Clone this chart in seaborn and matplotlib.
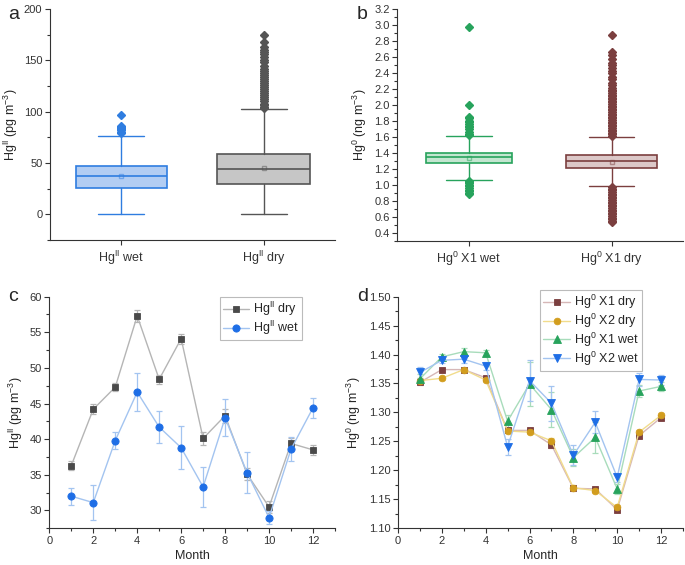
import seaborn as sns
import numpy as np
import matplotlib.pyplot as plt
from matplotlib.ticker import MultipleLocator

# ---- panel a: Hg(II) box stats (pg m-3)
a_labels = ["Hg$^{II}$ wet", "Hg$^{II}$ dry"]
a_q1 = [26, 30]
a_med = [37, 44]
a_q3 = [47.5, 59]
a_lo = [0, 0]
a_hi = [76, 103]
a_mean = [37, 45.5]
a_fliers_wet = [79, 80, 82, 83, 84, 85, 86, 97]
a_fliers_dry = [104, 105, 107, 108, 110, 112, 114, 116, 118, 120, 122, 124, 126,
                128, 130, 132, 134, 136, 138, 140, 142, 145, 148, 150, 153, 156,
                158, 160, 163, 168, 175]

# ---- panel b: Hg(0) box stats (ng m-3)
b_labels = ["Hg$^{0}$ X1 wet", "Hg$^{0}$ X1 dry"]
b_q1 = [1.27, 1.21]
b_med = [1.35, 1.30]
b_q3 = [1.40, 1.37]
b_lo = [1.06, 0.98]
b_hi = [1.61, 1.60]
b_mean = [1.34, 1.29]
b_fliers_wet = [1.62, 1.64, 1.66, 1.70, 1.72, 1.74, 1.76, 1.78, 1.80, 1.83, 1.85,
                2.00, 2.98, 1.05, 1.04, 1.02, 1.00, 0.98, 0.96, 0.94, 0.92, 0.90, 0.88]
b_fliers_dry = [1.61, 1.63, 1.65, 1.67, 1.69, 1.71, 1.73, 1.75, 1.77, 1.79, 1.81,
                1.83, 1.85, 1.87, 1.89, 1.91, 1.93, 1.95, 1.97, 1.99, 2.01, 2.03,
                2.05, 2.07, 2.09, 2.11, 2.13, 2.15, 2.17, 2.19, 2.21, 2.25, 2.28,
                2.32, 2.35, 2.40, 2.43, 2.46, 2.50, 2.53, 2.57, 2.62, 2.66, 2.87,
                0.97, 0.95, 0.93, 0.91, 0.89, 0.87, 0.85, 0.83, 0.81, 0.79, 0.77,
                0.75, 0.73, 0.71, 0.69, 0.67, 0.65, 0.63, 0.61, 0.59, 0.57, 0.55, 0.53]

# ---- panel c: monthly Hg(II)
months = [1, 2, 3, 4, 5, 6, 7, 8, 9, 10, 11, 12]
hg2_dry = [36.3, 44.2, 47.3, 57.3, 48.4, 54.1, 40.1, 43.3, 35.1, 30.5, 39.4, 38.5]
hg2_dry_err = [0.6, 0.7, 0.6, 0.8, 0.6, 0.7, 0.9, 1.0, 0.8, 0.8, 0.8, 0.7]
hg2_wet = [32.0, 31.1, 39.8, 46.6, 41.7, 38.8, 33.3, 43.0, 35.3, 29.0, 38.6, 44.4]
hg2_wet_err = [1.2, 2.5, 1.2, 2.7, 2.2, 3.0, 2.8, 2.6, 2.9, 0.9, 1.7, 1.4]

# ---- panel d: monthly Hg(0)
hg0_x1_dry = [1.352, 1.374, 1.374, 1.360, 1.269, 1.269, 1.244, 1.169, 1.168, 1.132, 1.260, 1.291]
hg0_x1_dry_err = [0.004, 0.003, 0.003, 0.003, 0.003, 0.003, 0.005, 0.004, 0.004, 0.004, 0.004, 0.004]
hg0_x2_dry = [1.355, 1.359, 1.374, 1.356, 1.268, 1.266, 1.251, 1.170, 1.165, 1.136, 1.266, 1.295]
hg0_x2_dry_err = [0.004, 0.003, 0.003, 0.003, 0.003, 0.003, 0.005, 0.004, 0.004, 0.004, 0.004, 0.004]
hg0_x1_wet = [1.358, 1.396, 1.405, 1.403, 1.285, 1.349, 1.305, 1.222, 1.257, 1.168, 1.337, 1.345]
hg0_x1_wet_err = [0.008, 0.005, 0.006, 0.005, 0.010, 0.038, 0.030, 0.015, 0.027, 0.008, 0.010, 0.008]
hg0_x2_wet = [1.369, 1.390, 1.392, 1.380, 1.241, 1.355, 1.316, 1.226, 1.283, 1.188, 1.357, 1.356]
hg0_x2_wet_err = [0.010, 0.005, 0.006, 0.007, 0.014, 0.035, 0.030, 0.017, 0.019, 0.008, 0.011, 0.008]

sns.set_style("ticks")
plt.rcParams['font.family'] = ['Liberation Sans', 'DejaVu Sans']
plt.rcParams['mathtext.fontset'] = 'custom'
plt.rcParams['mathtext.rm'] = 'Liberation Sans'
plt.rcParams['mathtext.it'] = 'Liberation Sans:italic'
plt.rcParams['mathtext.default'] = 'regular'
plt.rcParams['axes.edgecolor'] = '#333333'
plt.rcParams['xtick.color'] = '#333333'
plt.rcParams['ytick.color'] = '#333333'

LAB = 9
TICK = 8

fig = plt.figure(figsize=(6.85, 5.65), dpi=100)
ax_a = fig.add_axes([0.073, 0.575, 0.416, 0.409])
ax_b = fig.add_axes([0.580, 0.574, 0.417, 0.410])
ax_c = fig.add_axes([0.072, 0.065, 0.417, 0.410])
ax_d = fig.add_axes([0.581, 0.065, 0.416, 0.410])


def make_stats(labels, q1, med, q3, lo, hi, mean, fliers):
    return [dict(label=labels[i], q1=q1[i], med=med[i], q3=q3[i], whislo=lo[i],
                 whishi=hi[i], mean=mean[i], fliers=fliers[i]) for i in range(len(labels))]


def common_ticks(ax):
    ax.tick_params(which='both', direction='out', width=0.8, pad=2)
    ax.tick_params(which='major', length=3.5)
    ax.tick_params(which='minor', length=2)


def draw_boxes(ax, stats, edges, faces, widths):
    for i, st in enumerate(stats):
        ec = edges[i]
        ax.bxp([st], positions=[i + 1], widths=widths[i], capwidths=0.32,
               patch_artist=True, showmeans=True, manage_ticks=False,
               boxprops=dict(facecolor=faces[i], edgecolor=ec, linewidth=1.2),
               medianprops=dict(color=ec, linewidth=1.2),
               whiskerprops=dict(color=ec, linewidth=1.0),
               capprops=dict(color=ec, linewidth=1.0),
               flierprops=dict(marker='D', markerfacecolor=ec, markeredgecolor=ec,
                               markersize=4.3, linestyle='none'),
               meanprops=dict(marker='s', markerfacecolor='none', markeredgecolor=ec,
                              markersize=3, alpha=0.5))
    ax.set_xlim(0.5, 2.5)
    ax.set_xticks([1, 2])
    common_ticks(ax)
    ax.tick_params(axis='x', labelsize=LAB, pad=3)
    ax.tick_params(axis='y', labelsize=TICK)


# panel a
st_a = make_stats(a_labels, a_q1, a_med, a_q3, a_lo, a_hi, a_mean, [a_fliers_wet, a_fliers_dry])
draw_boxes(ax_a, st_a, ['#2f7de0', '#555555'], ['#b2cdf3', '#c6c6c6'], [0.64, 0.65])
ax_a.set_xticklabels(a_labels)
ax_a.set_ylim(-25, 200)
ax_a.yaxis.set_major_locator(MultipleLocator(50))
ax_a.yaxis.set_minor_locator(MultipleLocator(25))
ax_a.set_ylabel("Hg$^{II}$ (pg m$^{-3}$)", fontsize=LAB, labelpad=3)

# panel b
st_b = make_stats(b_labels, b_q1, b_med, b_q3, b_lo, b_hi, b_mean, [b_fliers_wet, b_fliers_dry])
draw_boxes(ax_b, st_b, ['#27a35c', '#7b3f3f'], ['#c3e6d0', '#dcc8c8'], [0.60, 0.64])
ax_b.set_xticklabels(b_labels)
ax_b.set_ylim(0.3, 3.2)
ax_b.yaxis.set_major_locator(MultipleLocator(0.2))
ax_b.yaxis.set_minor_locator(MultipleLocator(0.1))
ax_b.yaxis.set_major_formatter(plt.FormatStrFormatter('%.1f'))
ax_b.set_ylabel("Hg$^{0}$ (ng m$^{-3}$)", fontsize=LAB, labelpad=4)


def draw_series(ax, y, err, label, dark, light, marker, ms=4.8):
    ax.errorbar(months, y, yerr=err, fmt='none', ecolor=light, elinewidth=0.9,
                capsize=2.5, capthick=0.9, zorder=1)
    sns.lineplot(x=months, y=y, ax=ax, color=light, linewidth=1.0, marker=marker,
                 markersize=ms, markerfacecolor=dark, markeredgecolor=dark,
                 markeredgewidth=0.6, label=label, zorder=3)


def style_month_axis(ax):
    ax.set_xlim(0, 13)
    ax.xaxis.set_major_locator(MultipleLocator(2))
    ax.xaxis.set_minor_locator(MultipleLocator(1))
    ax.set_xlabel("Month", fontsize=LAB, labelpad=3)
    common_ticks(ax)
    ax.tick_params(labelsize=TICK)


def month_legend(ax, anchor):
    leg = ax.legend(loc='upper right', bbox_to_anchor=anchor, fontsize=LAB,
                    frameon=True, fancybox=False, edgecolor='#aaaaaa',
                    handlelength=2.1, borderpad=0.25, labelspacing=0.05,
                    handletextpad=0.35, borderaxespad=0.2)
    leg.get_frame().set_linewidth(0.8)


# panel c
draw_series(ax_c, hg2_dry, hg2_dry_err, "Hg$^{II}$ dry", '#4a4a4a', '#b5b5b5', 's')
draw_series(ax_c, hg2_wet, hg2_wet_err, "Hg$^{II}$ wet", '#1e6ee6', '#a3c4f0', 'o', 5.2)
style_month_axis(ax_c)
ax_c.set_ylim(27.5, 60)
ax_c.yaxis.set_major_locator(MultipleLocator(5))
ax_c.yaxis.set_minor_locator(MultipleLocator(2.5))
ax_c.set_ylabel("Hg$^{II}$ (pg m$^{-3}$)", fontsize=LAB, labelpad=3)
month_legend(ax_c, (0.895, 1.01))

# panel d
draw_series(ax_d, hg0_x1_dry, hg0_x1_dry_err, "Hg$^{0}$ X1 dry", '#7b3f3f', '#d6b7b7', 's')
draw_series(ax_d, hg0_x2_dry, hg0_x2_dry_err, "Hg$^{0}$ X2 dry", '#d29d1e', '#f1dc8c', 'o')
draw_series(ax_d, hg0_x1_wet, hg0_x1_wet_err, "Hg$^{0}$ X1 wet", '#27a35c', '#a8dcbb', '^', 5.2)
draw_series(ax_d, hg0_x2_wet, hg0_x2_wet_err, "Hg$^{0}$ X2 wet", '#1e6ee6', '#a3c4f0', 'v', 5.2)
style_month_axis(ax_d)
ax_d.set_ylim(1.10, 1.50)
ax_d.yaxis.set_major_locator(MultipleLocator(0.05))
ax_d.yaxis.set_minor_locator(MultipleLocator(0.025))
ax_d.yaxis.set_major_formatter(plt.FormatStrFormatter('%.2f'))
ax_d.set_ylabel("Hg$^{0}$ (ng m$^{-3}$)", fontsize=LAB, labelpad=4)
month_legend(ax_d, (0.866, 1.04))

for ax in (ax_a, ax_b, ax_c, ax_d):
    sns.despine(ax=ax)

fig.text(0.012, 0.99, "a", fontsize=14, va='top')
fig.text(0.521, 0.99, "b", fontsize=14, va='top')
fig.text(0.012, 0.49, "c", fontsize=14, va='top')
fig.text(0.521, 0.49, "d", fontsize=14, va='top')

fig.savefig("out.png", dpi=100)
